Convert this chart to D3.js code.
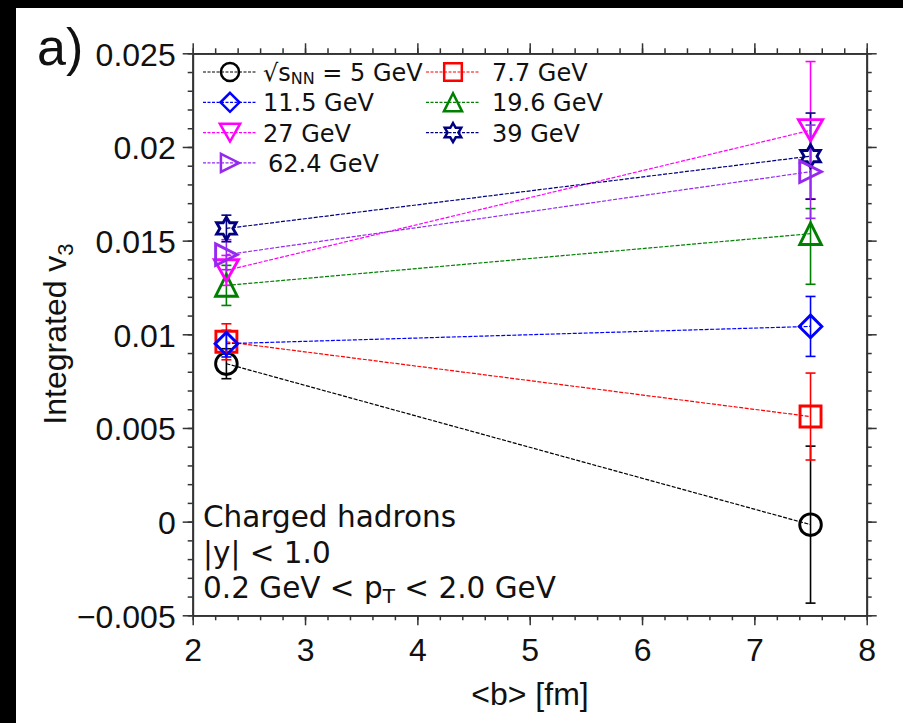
<!DOCTYPE html>
<html>
<head>
<meta charset="utf-8">
<script src="https://cdn.jsdelivr.net/npm/d3@7"></script>
<style>
  html, body { margin: 0; padding: 0; background: #fff; }
  svg { display: block; }
</style>
</head>
<body>
<svg id="chart" width="903" height="723"></svg>
<script>
// Impact parameter <b> [fm] for the two centrality points
const bValues = [2.3, 7.5];

// Integrated v3 per collision energy, with lower / upper errors
const v3_5   = [0.00843, -0.00016];
const lo_5   = [0.00080, 0.00419];
const hi_5   = [0.00080, 0.00419];

const v3_7p7 = [0.00960, 0.00561];
const lo_7p7 = [0.00096, 0.00232];
const hi_7p7 = [0.00096, 0.00232];

const v3_11p5 = [0.00950, 0.01042];
const lo_11p5 = [0.00071, 0.00160];
const hi_11p5 = [0.00071, 0.00160];

const v3_19p6 = [0.01261, 0.01537];
const lo_19p6 = [0.00107, 0.00270];
const hi_19p6 = [0.00107, 0.00134];

const v3_27 = [0.01341, 0.02089];
const lo_27 = [0.00080, 0.00367];
const hi_27 = [0.00080, 0.00367];

const v3_39 = [0.01565, 0.01951];
const lo_39 = [0.00071, 0.00230];
const hi_39 = [0.00071, 0.00230];

const v3_62p4 = [0.01425, 0.01868];
const lo_62p4 = [0.00080, 0.00249];
const hi_62p4 = [0.00080, 0.00249];

// Axis ticks
const xTicks = [2, 3, 4, 5, 6, 7, 8];
const xTickLabels = ["2", "3", "4", "5", "6", "7", "8"];
const yTicks = [-0.005, 0, 0.005, 0.01, 0.015, 0.02, 0.025];
const yTickLabels = ["\u22120.005", "0", "0.005", "0.01", "0.015", "0.02", "0.025"];

const series = [
  { name: "5",    v: v3_5,    lo: lo_5,    hi: hi_5,    color: "#000000", shape: "circle" },
  { name: "7.7",  v: v3_7p7,  lo: lo_7p7,  hi: hi_7p7,  color: "#ff0000", shape: "square" },
  { name: "11.5", v: v3_11p5, lo: lo_11p5, hi: hi_11p5, color: "#0000ff", shape: "diamond" },
  { name: "19.6", v: v3_19p6, lo: lo_19p6, hi: hi_19p6, color: "#008000", shape: "triUp" },
  { name: "27",   v: v3_27,   lo: lo_27,   hi: hi_27,   color: "#ff00ff", shape: "triDown" },
  { name: "39",   v: v3_39,   lo: lo_39,   hi: hi_39,   color: "#000080", shape: "hexagram" },
  { name: "62.4", v: v3_62p4, lo: lo_62p4, hi: hi_62p4, color: "#9628f0", shape: "triRight" }
];

const svg = d3.select("#chart");
const W = 903, H = 723;
svg.append("rect").attr("width", W).attr("height", H).attr("fill", "#fff");
// dark border strips
svg.append("rect").attr("x", 0).attr("y", 0).attr("width", W).attr("height", 8).attr("fill", "#000");
svg.append("rect").attr("x", 0).attr("y", 0).attr("width", 16).attr("height", H).attr("fill", "#000");

const plotL = 192.7, plotR = 866.7, plotT = 53.3, plotB = 615.3;
const x = d3.scaleLinear().domain([2, 8]).range([plotL, plotR]);
const y = d3.scaleLinear().domain([-0.005, 0.025]).range([plotB, plotT]);

const axisColor = "#333";
const tickFont = "'Liberation Sans', Arial, sans-serif";
const xMinor = d3.range(2, 8.0001, 0.2).map(d => +d.toFixed(2));
const yMinor = d3.range(-0.005, 0.02501, 0.001).map(d => +d.toFixed(4));

function styleAxis(g) {
  g.select(".domain").attr("stroke", axisColor).attr("stroke-width", 1.8);
  g.selectAll(".tick line").attr("stroke", axisColor).attr("stroke-width", 1.5);
}

// minor ticks on all four sides
svg.append("g").attr("transform", `translate(0,${plotB})`)
  .call(d3.axisBottom(x).tickValues(xMinor).tickSize(5).tickSizeOuter(0).tickFormat(""))
  .call(styleAxis);
svg.append("g").attr("transform", `translate(0,${plotT})`)
  .call(d3.axisTop(x).tickValues(xMinor).tickSize(5).tickSizeOuter(0).tickFormat(""))
  .call(styleAxis);
svg.append("g").attr("transform", `translate(${plotL},0)`)
  .call(d3.axisLeft(y).tickValues(yMinor).tickSize(5).tickSizeOuter(0).tickFormat(""))
  .call(styleAxis);
svg.append("g").attr("transform", `translate(${plotR},0)`)
  .call(d3.axisRight(y).tickValues(yMinor).tickSize(5).tickSizeOuter(0).tickFormat(""))
  .call(styleAxis);

// major ticks
const gx = svg.append("g").attr("transform", `translate(0,${plotB})`)
  .call(d3.axisBottom(x).tickValues(xTicks).tickSize(10).tickSizeOuter(0).tickPadding(13)
    .tickFormat((d, i) => xTickLabels[i]))
  .call(styleAxis);
gx.selectAll("text").attr("font-family", tickFont).attr("font-size", 32).attr("fill", "#111");

svg.append("g").attr("transform", `translate(0,${plotT})`)
  .call(d3.axisTop(x).tickValues(xTicks).tickSize(10).tickSizeOuter(0).tickFormat(""))
  .call(styleAxis);

const gy = svg.append("g").attr("transform", `translate(${plotL},0)`)
  .call(d3.axisLeft(y).tickValues(yTicks).tickSize(10).tickSizeOuter(0).tickPadding(7)
    .tickFormat((d, i) => yTickLabels[i]))
  .call(styleAxis);
gy.selectAll("text").attr("font-family", tickFont).attr("font-size", 32).attr("fill", "#111")
  .attr("dy", "0.37em");

svg.append("g").attr("transform", `translate(${plotR},0)`)
  .call(d3.axisRight(y).tickValues(yTicks).tickSize(10).tickSizeOuter(0).tickFormat(""))
  .call(styleAxis);

// axis titles
svg.append("text").attr("x", 530).attr("y", 705).attr("text-anchor", "middle")
  .attr("font-family", tickFont).attr("font-size", 32).attr("fill", "#111").text("<b> [fm]");

const yt = svg.append("text").attr("transform", "translate(66,334) rotate(-90)")
  .attr("text-anchor", "middle").attr("font-family", tickFont).attr("font-size", 32).attr("fill", "#111");
yt.append("tspan").text("Integrated v");
yt.append("tspan").attr("font-size", 22).attr("dy", 7).text("3");

svg.append("text").attr("x", 37).attr("y", 65).attr("font-family", tickFont)
  .attr("font-size", 52).attr("fill", "#111").text("a)");

// marker shapes
function shapePath(shape, r) {
  switch (shape) {
    case "square":  return `M${-r},${-r}H${r}V${r}H${-r}Z`;
    case "diamond": return `M0,${-r}L${r},0L0,${r}L${-r},0Z`;
    case "triUp":   return `M0,${-r}L${r},${r}L${-r},${r}Z`;
    case "triDown": return `M${-r * 1.08},${-r * 0.95}L${r * 1.08},${-r * 0.95}L0,${r * 0.95}Z`;
    case "triRight":return `M${-r},${-r}L${r},0L${-r},${r}Z`;
    case "hexagram": {
      const pts = [];
      for (let k = 0; k < 12; k++) {
        const a = -Math.PI / 2 + k * Math.PI / 6;
        const rr = k % 2 === 0 ? r : r / Math.sqrt(3);
        pts.push([rr * Math.cos(a), rr * Math.sin(a)]);
      }
      return "M" + pts.map(p => p[0].toFixed(2) + "," + p[1].toFixed(2)).join("L") + "Z";
    }
    default: { // circle
      return `M${r},0A${r},${r} 0 1,1 ${-r},0A${r},${r} 0 1,1 ${r},0Z`;
    }
  }
}
const markerR = { circle: 10.8, square: 10.5, diamond: 11.3, triUp: 10.8, triDown: 11.2, triRight: 10.8, hexagram: 11.3 };

const plot = svg.append("g");
const line = d3.line().x(d => x(d[0])).y(d => y(d[1]));

// connecting dashed lines
series.forEach(s => {
  const pts = bValues.map((b, i) => [b, s.v[i]]);
  plot.append("path").attr("d", line(pts)).attr("fill", "none")
    .attr("stroke", s.color).attr("stroke-width", 1.2).attr("stroke-dasharray", "4,1.5");
});

// error bars
series.forEach(s => {
  bValues.forEach((b, i) => {
    const cx = x(b), y1 = y(s.v[i] + s.hi[i]), y0 = y(s.v[i] - s.lo[i]);
    plot.append("line").attr("x1", cx).attr("x2", cx).attr("y1", y1).attr("y2", y0)
      .attr("stroke", s.color).attr("stroke-width", 1.6);
    [y1, y0].forEach(yy => plot.append("line").attr("x1", cx - 5).attr("x2", cx + 5)
      .attr("y1", yy).attr("y2", yy).attr("stroke", s.color).attr("stroke-width", 1.6));
  });
});

// markers
series.forEach(s => {
  bValues.forEach((b, i) => {
    plot.append("path").attr("d", shapePath(s.shape, markerR[s.shape]))
      .attr("transform", `translate(${x(b)},${y(s.v[i])})`)
      .attr("fill", "none").attr("stroke", s.color).attr("stroke-width", 2.9)
      .attr("stroke-linejoin", "miter");
  });
});

// legend
const legFont = "'DejaVu Sans', sans-serif";
const legCols = [{ x0: 203, mx: 230, x1: 257, tx: 263 }, { x0: 426, mx: 453, x1: 480, tx: 492 }];
const legRowsY = [72, 102.3, 132.6, 162.9];
const legOrder = [[0, 0, 0], [1, 0, 1], [2, 1, 0], [3, 1, 1], [4, 2, 0], [5, 2, 1], [6, 3, 0]];
const leg = svg.append("g");
legOrder.forEach(([si, row, col]) => {
  const s = series[si], c = legCols[col], cy = legRowsY[row];
  leg.append("line").attr("x1", c.x0).attr("x2", c.x1).attr("y1", cy).attr("y2", cy)
    .attr("stroke", s.color).attr("stroke-width", 1.2).attr("stroke-dasharray", "3,1.5");
  leg.append("path").attr("d", shapePath(s.shape, markerR[s.shape] * 0.84))
    .attr("transform", `translate(${c.mx},${cy})`)
    .attr("fill", "none").attr("stroke", s.color).attr("stroke-width", 2.5);
  const t = leg.append("text").attr("x", c.tx).attr("y", cy + 9)
    .attr("font-family", legFont).attr("font-size", 24).attr("fill", "#111");
  if (si === 0) {
    t.append("tspan").text("\u221As");
    t.append("tspan").attr("font-size", 16).attr("dy", 3).text("NN");
    t.append("tspan").attr("dy", -3).text(" = 5 GeV");
  } else if (s.name === "62.4") {
    t.attr("x", c.tx + 5).text(s.name + " GeV");
  } else {
    t.text(s.name + " GeV");
  }
});

// annotation
const ann = svg.append("g").attr("font-family", legFont).attr("font-size", 29.5).attr("fill", "#111");
ann.append("text").attr("x", 203).attr("y", 527).text("Charged hadrons");
ann.append("text").attr("x", 203).attr("y", 563).text("|y| < 1.0");
const pt = ann.append("text").attr("x", 203).attr("y", 598);
pt.append("tspan").text("0.2 GeV < p");
pt.append("tspan").attr("font-size", 20).attr("dy", 5).text("T");
pt.append("tspan").attr("dy", -5).text(" < 2.0 GeV");
</script>
</body>
</html>
